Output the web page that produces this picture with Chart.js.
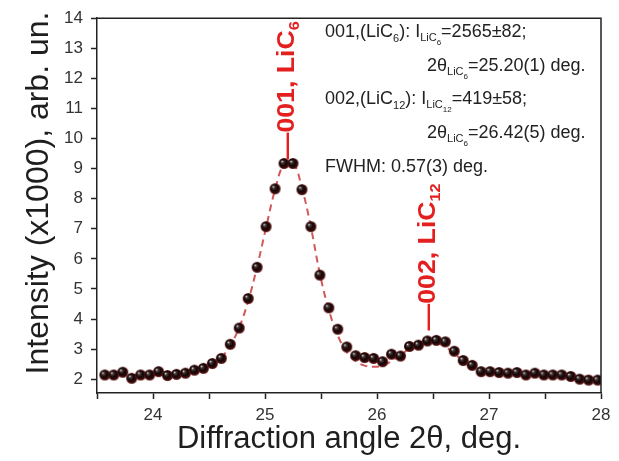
<!DOCTYPE html>
<html>
<head>
<meta charset="utf-8">
<script src="https://cdn.jsdelivr.net/npm/chart.js@4.4.1/dist/chart.umd.min.js"></script>
<style>
  html, body { margin: 0; padding: 0; background: #fff; }
  #wrap { width: 619px; height: 461px; }
</style>
</head>
<body>
<div id="wrap"><canvas id="xrd-chart"></canvas></div>
<script>
// 2theta scan, intensity in thousands of counts
var angle = [
  23.57, 23.65, 23.73, 23.81, 23.89, 23.97, 24.05, 24.13, 24.21, 24.29,
  24.37, 24.45, 24.53, 24.61, 24.69, 24.77, 24.85, 24.93, 25.01, 25.09,
  25.17, 25.25, 25.33, 25.41, 25.49, 25.57, 25.65, 25.73, 25.81, 25.89,
  25.97, 26.05, 26.13, 26.21, 26.29, 26.37, 26.45, 26.53, 26.61, 26.69,
  26.77, 26.85, 26.93, 27.01, 27.09, 27.17, 27.25, 27.33, 27.41, 27.49,
  27.57, 27.65, 27.73, 27.81, 27.89, 27.97,
];
var intensity = [
  2.14, 2.14, 2.23, 2.03, 2.14, 2.14, 2.25, 2.12, 2.16, 2.2,
  2.3, 2.36, 2.52, 2.69, 3.16, 3.7, 4.68, 5.72, 7.07, 8.33,
  9.17, 9.17, 8.3, 7.07, 5.46, 4.37, 3.66, 3.07, 2.78, 2.72,
  2.69, 2.58, 2.83, 2.77, 3.09, 3.13, 3.27, 3.29, 3.24, 2.93,
  2.62, 2.46, 2.25, 2.25, 2.22, 2.2, 2.22, 2.14, 2.2, 2.14,
  2.14, 2.14, 2.09, 2.0, 1.97, 1.97,
];
// fitted profile (two peaks + background)
var fitted = [
  2.12, 2.13, 2.13, 2.14, 2.14, 2.15, 2.16, 2.17, 2.18, 2.21,
  2.26, 2.34, 2.48, 2.72, 3.12, 3.72, 4.6, 5.75, 7.05, 8.3,
  9.15, 9.2, 8.35, 7.05, 5.5, 4.3, 3.45, 2.9, 2.6, 2.45,
  2.41, 2.45, 2.6, 2.8, 3.02, 3.18, 3.25, 3.22, 3.08, 2.85,
  2.6, 2.42, 2.3, 2.24, 2.2, 2.18, 2.16, 2.15, 2.14, 2.13,
  2.12, 2.11, 2.1, 2.09, 2.08, 2.07,
];
// peak markers: position, intensity at the foot of the label, text, subscript
var peakPos = [25.19, 26.45];
var peakFoot = [9.31, 3.62];
var peakText = ["\u2014001, LiC", "\u2014002, LiC"];
var peakSub = ["6", "12"];

var FONT = '"Liberation Sans", Arial, Helvetica, sans-serif';
var RED = "#e3201f";

function makeBall(r) {
  var c = document.createElement("canvas");
  c.width = c.height = Math.ceil(2 * r + 2);
  var g = c.getContext("2d");
  var cx = c.width / 2, cy = c.height / 2;
  var grad = g.createRadialGradient(cx - r * 0.4, cy - r * 0.4, r * 0.05, cx, cy, r);
  grad.addColorStop(0, "#e0e0e0");
  grad.addColorStop(0.2, "#4a3a3a");
  grad.addColorStop(0.55, "#120505");
  grad.addColorStop(0.85, "#3a0c0c");
  grad.addColorStop(1, "#6e2222");
  g.fillStyle = grad;
  g.beginPath();
  g.arc(cx, cy, r, 0, Math.PI * 2);
  g.fill();
  return c;
}

// draws a list of [text, size, dy] runs one after another
function drawRuns(ctx, x, y, runs, bold) {
  runs.forEach(function (run) {
    ctx.font = (bold ? "bold " : "") + run[1] + "px " + FONT;
    ctx.fillText(run[0], x, y + run[2]);
    x += ctx.measureText(run[0]).width;
  });
}

var decorations = {
  id: "decorations",
  afterDatasetsDraw: function (chart) {
    var ctx = chart.ctx;
    var a = chart.chartArea;
    var xs = chart.scales.x, ys = chart.scales.y;
    ctx.save();

    // frame on top and right
    ctx.strokeStyle = "#222";
    ctx.lineWidth = 1.5;
    ctx.beginPath();
    ctx.moveTo(a.left, a.top);
    ctx.lineTo(a.right, a.top);
    ctx.lineTo(a.right, a.bottom);
    ctx.stroke();

    // y axis title
    ctx.save();
    ctx.translate(39, 193);
    ctx.rotate(-Math.PI / 2);
    ctx.fillStyle = "#1e1e1e";
    ctx.font = "32px " + FONT;
    ctx.textAlign = "center";
    ctx.textBaseline = "middle";
    ctx.fillText("Intensity (x1000), arb. un.", 0, 0);
    ctx.restore();

    // peak labels, vertical, a bit condensed
    var fs = 23;
    peakPos.forEach(function (p, i) {
      var px = xs.getPixelForValue(p) + fs * 0.32;
      var py = ys.getPixelForValue(peakFoot[i]);
      ctx.save();
      ctx.translate(px, py);
      ctx.rotate(-Math.PI / 2);
      ctx.scale(1.16, 1);
      ctx.fillStyle = RED;
      ctx.textAlign = "left";
      ctx.textBaseline = "alphabetic";
      drawRuns(ctx, 0, 0, [[peakText[i], fs, 0], [peakSub[i], 14, 5]], true);
      ctx.restore();
    });

    // fit results
    ctx.fillStyle = "#222";
    ctx.textAlign = "left";
    ctx.textBaseline = "alphabetic";
    var x0 = a.left + 228, x1 = a.left + 330;
    drawRuns(ctx, x0, 37, [["001,(LiC", 18, 0], ["6", 11, 5], ["): I", 18, 0], ["LiC", 11, 4], ["6", 8, 8], ["=2565\u00b182;", 18, 0]]);
    drawRuns(ctx, x1, 71, [["2\u03b8", 18, 0], ["LiC", 11, 4], ["6", 8, 8], ["=25.20(1) deg.", 18, 0]]);
    drawRuns(ctx, x0, 104, [["002,(LiC", 18, 0], ["12", 11, 5], ["): I", 18, 0], ["LiC", 11, 4], ["12", 8, 8], ["=419\u00b158;", 18, 0]]);
    drawRuns(ctx, x1, 138, [["2\u03b8", 18, 0], ["LiC", 11, 4], ["6", 8, 8], ["=26.42(5) deg.", 18, 0]]);
    drawRuns(ctx, x0, 172, [["FWHM: 0.57(3) deg.", 18, 0]]);

    ctx.restore();
  },
};

var ball = makeBall(5.5);

var axisCommon = {
  type: "linear",
  border: { color: "#222", width: 1.5 },
  grid: {
    drawOnChartArea: false,
    drawTicks: true,
    tickLength: 6,
    tickWidth: 1.5,
    tickColor: "#222",
  },
};

var xrdChart = new Chart(document.getElementById("xrd-chart"), {
  type: "line",
  data: {
    datasets: [
      {
        label: "fit",
        data: angle.map(function (v, i) { return { x: v, y: fitted[i] }; }),
        borderColor: "rgba(205,70,70,0.9)",
        borderWidth: 2,
        borderDash: [7, 5],
        pointRadius: 0,
        tension: 0.4,
        fill: false,
        order: 2,
      },
      {
        label: "data",
        data: angle.map(function (v, i) { return { x: v, y: intensity[i] }; }),
        showLine: false,
        pointStyle: ball,
        pointRadius: 5.5,
        order: 1,
      },
    ],
  },
  options: {
    responsive: true,
    maintainAspectRatio: false,
    animation: false,
    layout: { padding: { top: 15, right: 18, left: 0, bottom: 0 } },
    plugins: { legend: { display: false }, tooltip: { enabled: false } },
    scales: {
      x: Object.assign({}, axisCommon, {
        min: 23.5,
        max: 28,
        afterFit: function (s) { s.height = 68; },
        ticks: {
          stepSize: 0.5,
          autoSkip: false,
          maxRotation: 0,
          padding: 6,
          color: "#333",
          font: { family: FONT, size: 17 },
          callback: function (v) { return Number.isInteger(v) ? v : ""; },
        },
        title: {
          display: true,
          text: "Diffraction angle 2\u03b8, deg.",
          color: "#1e1e1e",
          font: { family: FONT, size: 31 },
          padding: { top: 0, bottom: 3 },
        },
      }),
      y: Object.assign({}, axisCommon, {
        min: 1.54,
        max: 14,
        afterFit: function (s) { s.width = 97; },
        ticks: {
          stepSize: 0.5,
          includeBounds: false,
          padding: 8,
          color: "#333",
          font: { family: FONT, size: 17 },
          callback: function (v) { return Number.isInteger(v) ? v : ""; },
        },
      }),
    },
  },
  plugins: [decorations],
});
</script>
</body>
</html>
